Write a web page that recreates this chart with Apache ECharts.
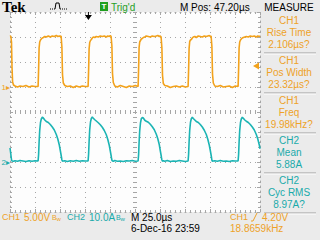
<!DOCTYPE html>
<html><head><meta charset="utf-8">
<script src="https://cdn.jsdelivr.net/npm/echarts@6/dist/echarts.min.js"></script>
<style>html,body{margin:0;padding:0;background:#ebebeb;}#c{width:320px;height:240px;}</style>
</head><body><div id="c"></div>
<script>
// ---- data (time in µs, CH1 in volts, CH2 in amperes) ----
const timeUs = [
  0, 0.8, 1.5, 2.0, 2.6, 3.5, 5, 7.5, 10, 13, 16, 19, 22, 25, 28.1,
  28.6, 29.1, 29.7, 30.5, 31.3, 32.3, 33.3, 34.8, 36.3, 38.3, 40.3, 42.3, 44.3, 46.3, 47.8, 49.3, 50.3, 51.1, 51.5, 51.9, 52.5, 53.3, 54.8, 57.3, 60.3, 63.3, 66.3, 69.3, 72.3, 75.3, 78.1,
  78.6, 79.1, 79.7, 80.5, 81.3, 82.3, 83.3, 84.8, 86.3, 88.3, 90.3, 92.3, 94.3, 96.3, 97.8, 99.3, 100.3, 101.1, 101.5, 101.9, 102.5, 103.3, 104.8, 107.3, 110.3, 113.3, 116.3, 119.3, 122.3, 125.3, 128.1,
  128.6, 129.1, 129.7, 130.5, 131.3, 132.3, 133.3, 134.8, 136.3, 138.3, 140.3, 142.3, 144.3, 146.3, 147.8, 149.3, 150.3, 151.1, 151.5, 151.9, 152.5, 153.3, 154.8, 157.3, 160.3, 163.3, 166.3, 169.3, 172.3, 175.3, 178.1,
  178.6, 179.1, 179.7, 180.5, 181.3, 182.3, 183.3, 184.8, 186.3, 188.3, 190.3, 192.3, 194.3, 196.3, 197.8, 199.3, 200.3, 201.1, 201.5, 201.9, 202.5, 203.3, 204.8, 207.3, 210.3, 213.3, 216.3, 219.3, 222.3, 225.3, 228.1,
  228.6, 229.1, 229.7, 230.5, 231.3, 232.3, 233.3, 234.8, 236.3, 238.3, 240.3, 242.3, 244.3, 246.3, 247.8, 249.3, 250
];
const ch1Volts = [
  10.1, 10.2, 9.0, 4.0, 1.0, 0.4, 0.2, 0.0, 0.2, 0.1, 0.3, 0.0, 0.2, 0.1, 0.1,
  3.5, 7.8, 9.0, 9.4, 9.6, 9.8, 9.9, 10.1, 10.0, 10.2, 10.0, 10.2, 10.1, 10.3, 10.1, 10.2, 10.1, 10.2, 10.1, 8.0, 2.5, 0.8, 0.3, 0.1, 0.2, -0.1, 0.2, 0.0, 0.2, 0.1, 0.1,
  3.3, 7.6, 8.9, 9.3, 9.5, 9.8, 10.0, 9.9, 10.1, 10.0, 10.2, 10.1, 10.2, 10.0, 10.2, 10.1, 10.3, 10.1, 10.2, 8.2, 2.7, 0.9, 0.2, 0.0, 0.3, 0.1, -0.1, 0.2, 0.1, 0.3, 0.1,
  3.6, 7.9, 9.0, 9.3, 9.6, 9.7, 9.9, 10.0, 10.2, 10.1, 10.0, 10.2, 10.1, 10.2, 10.3, 10.1, 10.2, 10.0, 10.1, 7.8, 2.4, 0.7, 0.3, 0.2, -0.1, 0.1, 0.2, 0.0, 0.2, 0.0, 0.1,
  3.4, 7.7, 9.1, 9.4, 9.5, 9.8, 10.0, 10.1, 9.9, 10.2, 10.1, 10.0, 10.2, 10.1, 10.2, 10.3, 10.1, 10.2, 10.1, 8.1, 2.6, 0.8, 0.2, 0.1, 0.3, 0.0, 0.1, 0.2, -0.1, 0.2, 0.1,
  3.5, 7.8, 9.0, 9.4, 9.6, 9.8, 9.9, 10.0, 10.1, 10.0, 10.2, 10.1, 10.2, 10.0, 10.2, 10.1, 10.2
];
const ch2Amps = [
  5.6, 3.2, 0.9, 0.4, 0.5, 0.3, 0.5, 0.3, 0.6, 0.4, 0.2, 0.5, 0.3, 0.5, 0.4,
  3.0, 8.0, 12.5, 15.8, 17.2, 17.9, 17.6, 16.8, 16.2, 15.8, 15.0, 14.0, 12.8, 11.0, 9.2, 6.8, 4.6, 2.8, 1.8, 0.8, 0.3, 0.4, 0.5, 0.2, 0.5, 0.3, 0.6, 0.3, 0.5, 0.4, 0.4,
  3.2, 8.2, 12.8, 16.0, 17.4, 18.0, 17.5, 16.9, 16.4, 15.7, 14.9, 13.9, 12.6, 10.9, 9.0, 6.6, 4.4, 2.6, 1.6, 0.7, 0.4, 0.3, 0.6, 0.3, 0.4, 0.2, 0.5, 0.4, 0.6, 0.3, 0.4,
  2.9, 7.9, 12.4, 15.7, 17.3, 17.8, 17.6, 16.7, 16.3, 15.9, 15.1, 14.1, 12.9, 11.1, 9.3, 6.9, 4.5, 2.7, 1.7, 0.8, 0.3, 0.5, 0.3, 0.6, 0.2, 0.4, 0.3, 0.6, 0.4, 0.2, 0.4,
  3.1, 8.1, 12.6, 15.9, 17.3, 17.9, 17.4, 16.8, 16.2, 15.8, 15.0, 14.0, 12.7, 11.0, 9.1, 6.7, 4.6, 2.8, 1.8, 0.7, 0.3, 0.4, 0.5, 0.3, 0.6, 0.3, 0.4, 0.2, 0.5, 0.4, 0.4,
  3.0, 8.0, 12.5, 15.8, 17.2, 17.9, 17.5, 16.8, 16.3, 15.8, 15.0, 14.0, 12.8, 11.0, 9.2, 6.8, 5.3
];
// axis scales: 25 µs/div, 5 V/div, 10 A/div
const timeRange = [0, 250, 25];
const ch1Range = [-25, 15, 5];
const ch2Range = [-20, 60, 10];
const divRange = [-4, 4, 1];
const triggerTimeUs = 78.4;
const triggerLevelV = 4.2;
// texts
const measSource = ['CH1', 'CH1', 'CH1', 'CH2', 'CH2'];
const measName = ['Rise Time', 'Pos Width', 'Freq', 'Mean', 'Cyc RMS'];
const measValue = ['2.106\u00b5s?', '23.32\u00b5s?', '19.98kHz?', '5.88A', '8.97A?'];
const topTexts = ['Tek', "Trig'd", 'M Pos: 47.20\u00b5s', 'MEASURE'];
const bottomTexts = ['CH1', '5.00V', 'CH2', '10.0A', 'M 25.0\u00b5s', '6-Dec-16 23:59', 'CH1', '4.20V', '18.8659kHz'];

if (timeUs.length !== ch1Volts.length || timeUs.length !== ch2Amps.length) console.error('length mismatch', timeUs.length, ch1Volts.length, ch2Amps.length);

const ORANGE = '#f2a21c', ORANGE_T = '#eea228', TEAL = '#1bb4b4', TEAL_T = '#19aaaa';
const FONT = '"Liberation Sans", Arial, sans-serif';
const grey = '#a6a6a6';
const dotted = { color: grey, width: 1, type: [1, 4] };
const tickLS = { color: grey, width: 1 };

function borderAxis(range, pos, extra) {
  return Object.assign({
    type: 'value', min: range[0], max: range[1], interval: range[2], position: pos,
    axisLine: { show: true, onZero: false, lineStyle: dotted },
    axisTick: { show: true, inside: true, length: 3, lineStyle: tickLS },
    minorTick: { show: true, splitNumber: 5, length: 2, lineStyle: tickLS },
    axisLabel: { show: false }, splitLine: { show: false }
  }, extra || {});
}
function centerAxis(range, pos) {
  return {
    type: 'value', min: range[0], max: range[1], interval: range[2], position: pos,
    axisLine: { show: false, onZero: true, onZeroAxisIndex: 2 },
    axisTick: { show: true, inside: true, length: 2, lineStyle: tickLS },
    minorTick: { show: true, splitNumber: 5, length: 2, lineStyle: tickLS },
    axisLabel: { show: false }, splitLine: { show: false }
  };
}

const G = [];
function txt(x, y, s, color, opt) {
  opt = opt || {};
  G.push({ type: 'text', x: x, y: y, z: 100, silent: true, style: {
    text: s, fill: color, font: opt.font || ('10px ' + FONT),
    align: opt.align || 'left', verticalAlign: 'middle' } });
}
const F9 = { font: '9px ' + FONT };
// top bar
txt(2, 7, topTexts[0], '#000', { font: 'bold 15px "Liberation Serif", serif' });
G.push({ type: 'polyline', silent: true, shape: { points: [[50, 9], [55, 9]] }, style: { stroke: '#000', lineWidth: 1, lineDash: [1, 1] } });
G.push({ type: 'polyline', silent: true, shape: { points: [[55, 9], [56, 3], [59, 3], [60, 9]] }, style: { stroke: '#000', lineWidth: 1, fill: null } });
G.push({ type: 'polyline', silent: true, shape: { points: [[60, 9], [68, 9]] }, style: { stroke: '#000', lineWidth: 1, lineDash: [1, 1] } });
G.push({ type: 'rect', silent: true, shape: { x: 100, y: 2, width: 8, height: 9 }, style: { fill: '#1f9f1f' } });
txt(104, 6.5, 'T', '#fff', { font: 'bold 8px ' + FONT, align: 'center' });
txt(111, 7, topTexts[1], '#27a027');
txt(180, 7, topTexts[2], '#000');
txt(289, 7, topTexts[3], '#000', { align: 'center' });
// measure panel
for (let i = 0; i < 5; i++) {
  const c = measSource[i] === 'CH1' ? ORANGE_T : TEAL_T;
  const b = 20.5 + 40 * i;
  txt(289, b, measSource[i], c, { align: 'center' });
  txt(289, b + 12, measName[i], c, { align: 'center' });
  txt(289, b + 24, measValue[i], c, { align: 'center' });
  G.push({ type: 'line', silent: true, shape: { x1: 264, y1: b + 32.5, x2: 316, y2: b + 32.5 }, style: { stroke: '#9c9c9c', lineWidth: 1 } });
  G.push({ type: 'line', silent: true, shape: { x1: 264, y1: b + 33.5, x2: 316, y2: b + 33.5 }, style: { stroke: '#ffffff', lineWidth: 1 } });
}
// bottom bar
function bw(x, color) {
  txt(x, 217, 'B', color, { font: '7px ' + FONT });
  txt(x + 4.5, 219, 'w', color, { font: '6px ' + FONT });
}
txt(2, 217, bottomTexts[0], ORANGE_T, F9); txt(24, 217, bottomTexts[1], ORANGE_T); bw(52, ORANGE_T);
txt(67, 217, bottomTexts[2], TEAL_T, F9); txt(89, 217, bottomTexts[3], TEAL_T); bw(116, TEAL_T);
txt(131, 217, bottomTexts[4], '#000');
txt(131, 228, bottomTexts[5], '#000');
txt(230, 217, bottomTexts[6], ORANGE_T, F9);
G.push({ type: 'polyline', silent: true, shape: { points: [[251, 221], [253, 221], [257, 213]] }, style: { stroke: ORANGE_T, lineWidth: 1, fill: null } });
txt(262, 217, bottomTexts[7], ORANGE_T);
txt(230, 228, bottomTexts[8], ORANGE_T);

const option = {
  animation: false,
  backgroundColor: '#ebebeb',
  grid: { left: 10, top: 12, width: 250, height: 200, show: true, backgroundColor: '#fdfdfd', borderWidth: 0, containLabel: false, outerBoundsMode: 'none' },
  xAxis: [
    borderAxis(timeRange, 'bottom', { splitLine: { show: true, lineStyle: dotted } }),
    borderAxis(timeRange, 'top'),
    { type: 'value', min: -5, max: 5, show: false },
    centerAxis(timeRange, 'bottom'),
    centerAxis(timeRange, 'top')
  ],
  yAxis: [
    borderAxis(ch1Range, 'left', {
      splitLine: { show: true, lineStyle: dotted },
      axisLabel: { show: true, margin: 0, fontSize: 8, fontFamily: FONT, color: ORANGE_T, formatter: v => (v === 0 ? '1\u25b8' : '') }
    }),
    { type: 'value', min: ch2Range[0], max: ch2Range[1], interval: ch2Range[2], position: 'left',
      axisLine: { show: false, onZero: false }, axisTick: { show: false }, splitLine: { show: false },
      axisLabel: { show: true, margin: 0, fontSize: 8, fontFamily: FONT, color: TEAL_T, formatter: v => (v === 0 ? '2\u25b8' : '') } },
    centerAxis(divRange, 'left'),
    centerAxis(divRange, 'right'),
    borderAxis(divRange, 'right')
  ],
  series: [
    { name: 'CH1', type: 'line', xAxisIndex: 0, yAxisIndex: 0, symbol: 'none', z: 5,
      lineStyle: { color: ORANGE, width: 1.6 }, itemStyle: { color: ORANGE },
      data: timeUs.map((t, i) => [t, ch1Volts[i]]),
      markPoint: { silent: true, label: { show: false }, data: [
        { coord: [triggerTimeUs, ch1Range[1]], symbol: 'path://M3,0L4,0L4,3L7,3L3.5,8L0,3L3,3Z', symbolSize: [7, 8], symbolOffset: [0, 4], itemStyle: { color: '#000' } },
        { coord: [timeRange[1], triggerLevelV], symbol: 'triangle', symbolRotate: 90, symbolSize: [7, 6], symbolOffset: [-4, 0], itemStyle: { color: ORANGE } }
      ] } },
    { name: 'CH2', type: 'line', xAxisIndex: 0, yAxisIndex: 1, symbol: 'none', z: 5,
      lineStyle: { color: TEAL, width: 1.6 }, itemStyle: { color: TEAL },
      data: timeUs.map((t, i) => [t, ch2Amps[i]]) }
  ],
  graphic: G
};
const chart = echarts.init(document.getElementById('c'), null, { renderer: 'svg' });
chart.setOption(option);
</script>
</body></html>
